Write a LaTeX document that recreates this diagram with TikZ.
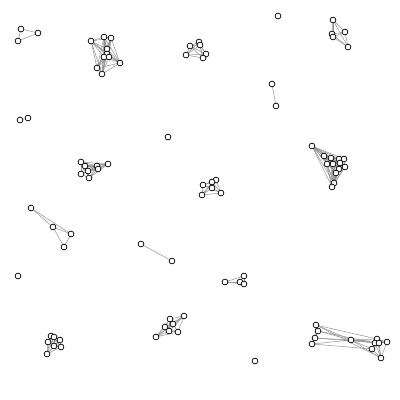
\documentclass[tikz,border=0pt]{standalone}
\usetikzlibrary{backgrounds}
\tikzset{
  vtx/.style={circle,draw=black,fill=white,inner sep=0pt,minimum size=5.8pt,line width=0.7pt},
  edge/.style={draw=gray!85,line width=0.5pt}
}
\newcommand\mkclique[2]{\foreach \i in {1,...,#2}{\foreach \j in {1,...,#2}{\ifnum\i<\j \draw[edge] (#1\i) -- (#1\j);\fi}}}
\begin{document}
\begin{tikzpicture}[x=1pt,y=-1pt]
\useasboundingbox (0,0) rectangle (400,400);
% cluster A (top-left triangle)
\node[vtx] (a1) at (21,29) {};
\node[vtx] (a2) at (38,33) {};
\node[vtx] (a3) at (18,41) {};
% cluster B
\foreach \n/\x/\y in {1/91/41,2/104/37,3/111/38,4/107/49,5/107/54,6/104/57,7/109/57,8/120/63,9/97/68,10/102/74}
  \node[vtx] (b\n) at (\x,\y) {};
% cluster C
\foreach \n/\x/\y in {1/190/46,2/199/42,3/200/45,4/186/55,5/206/54,6/203/58}
  \node[vtx] (c\n) at (\x,\y) {};
% cluster D
\node[vtx] (d1) at (333,20) {};
\node[vtx] (d2) at (345,32) {};
\node[vtx] (d3) at (332,34) {};
\node[vtx] (d4) at (333,37) {};
\node[vtx] (d5) at (348,47) {};
% singles and pairs
\node[vtx] (s1) at (278,16) {};
\node[vtx] (s2) at (168,137) {};
\node[vtx] (s3) at (18,276) {};
\node[vtx] (s4) at (255,361) {};
\node[vtx] (p1) at (20,120) {};
\node[vtx] (p2) at (28,118) {};
\node[vtx] (q1) at (272,84) {};
\node[vtx] (q2) at (276,106) {};
\node[vtx] (r1) at (141,244) {};
\node[vtx] (r2) at (172,261) {};
% cluster E
\foreach \n/\x/\y in {1/312/146,2/324/156,3/331/158,4/339/159,5/344/159,6/327/164,7/333/164,8/340/163,9/345/167,10/339/169,11/336/173,12/334/183,13/332/187}
  \node[vtx] (e\n) at (\x,\y) {};
% cluster F
\node[vtx] (f1) at (81,162) {};
\node[vtx] (f2) at (85,166) {};
\node[vtx] (f3) at (97,166) {};
\node[vtx] (f4) at (98,169) {};
\node[vtx] (f5) at (108,164) {};
\node[vtx] (f6) at (81,174) {};
\node[vtx] (f7) at (88,171) {};
\node[vtx] (f8) at (89,178) {};
% cluster G
\node[vtx] (g1) at (216,180) {};
\node[vtx] (g2) at (212,182) {};
\node[vtx] (g3) at (203,185) {};
\node[vtx] (g4) at (212,188) {};
\node[vtx] (g5) at (221,193) {};
\node[vtx] (g6) at (202,195) {};
% cluster H
\node[vtx] (h1) at (316,325) {};
\node[vtx] (h2) at (318,331) {};
\node[vtx] (h3) at (315,338) {};
\node[vtx] (h4) at (312,344) {};
\node[vtx] (h5) at (351,340) {};
\node[vtx] (h6) at (377,339) {};
\node[vtx] (h7) at (387,342) {};
\node[vtx] (h8) at (375,343) {};
\node[vtx] (h9) at (379,343) {};
\node[vtx] (h10) at (372,349) {};
\node[vtx] (h11) at (381,358) {};
% cluster I
\node[vtx] (i1) at (184,316) {};
\node[vtx] (i2) at (170,319) {};
\node[vtx] (i3) at (173,324) {};
\node[vtx] (i4) at (165,327) {};
\node[vtx] (i5) at (169,331) {};
\node[vtx] (i6) at (178,332) {};
\node[vtx] (i7) at (156,337) {};
% cluster J
\node[vtx] (j1) at (51,336) {};
\node[vtx] (j2) at (54,337) {};
\node[vtx] (j3) at (48,342) {};
\node[vtx] (j4) at (60,340) {};
\node[vtx] (j5) at (54,346) {};
\node[vtx] (j6) at (61,347) {};
\node[vtx] (j7) at (47,354) {};
% cluster K
\node[vtx] (k1) at (31,208) {};
\node[vtx] (k2) at (53,227) {};
\node[vtx] (k3) at (71,234) {};
\node[vtx] (k4) at (64,247) {};
% cluster L
\node[vtx] (l1) at (225,282) {};
\node[vtx] (l2) at (244,276) {};
\node[vtx] (l3) at (240,282) {};
\node[vtx] (l4) at (244,284) {};
\begin{scope}[on background layer]
  \fill[white] (0,0) rectangle (400,400);
  \mkclique{a}{3}
  \mkclique{b}{10}
  \mkclique{c}{6}
  \foreach \u/\v in {d1/d2,d1/d3,d1/d4,d1/d5,d2/d3,d2/d4,d3/d4,d3/d5,d4/d5,d2/d5}
    \draw[edge] (\u) -- (\v);
  \draw[edge] (p1) -- (p2);
  \draw[edge] (q1) -- (q2);
  \draw[edge] (r1) -- (r2);
  \mkclique{e}{13}
  \mkclique{f}{8}
  \mkclique{g}{6}
  \foreach \u/\v in {h1/h2,h1/h3,h2/h3,h3/h4,h2/h4,h1/h5,h2/h5,h3/h5,h4/h5,h1/h6,h2/h8,h3/h9,h4/h10,h1/h11,h5/h6,h5/h7,h5/h8,h5/h9,h5/h10,h5/h11}
    \draw[edge] (\u) -- (\v);
  \foreach \u/\v in {h6/h7,h6/h8,h6/h9,h6/h10,h6/h11,h7/h9,h7/h11,h8/h9,h8/h10,h8/h11,h9/h10,h9/h11,h10/h11,h7/h8}
    \draw[edge] (\u) -- (\v);
  \mkclique{i}{7}
  \mkclique{j}{7}
  \foreach \u/\v in {k1/k2,k1/k3,k2/k3,k2/k4,k3/k4}
    \draw[edge] (\u) -- (\v);
  \mkclique{l}{4}
\end{scope}
\end{tikzpicture}
\end{document}
